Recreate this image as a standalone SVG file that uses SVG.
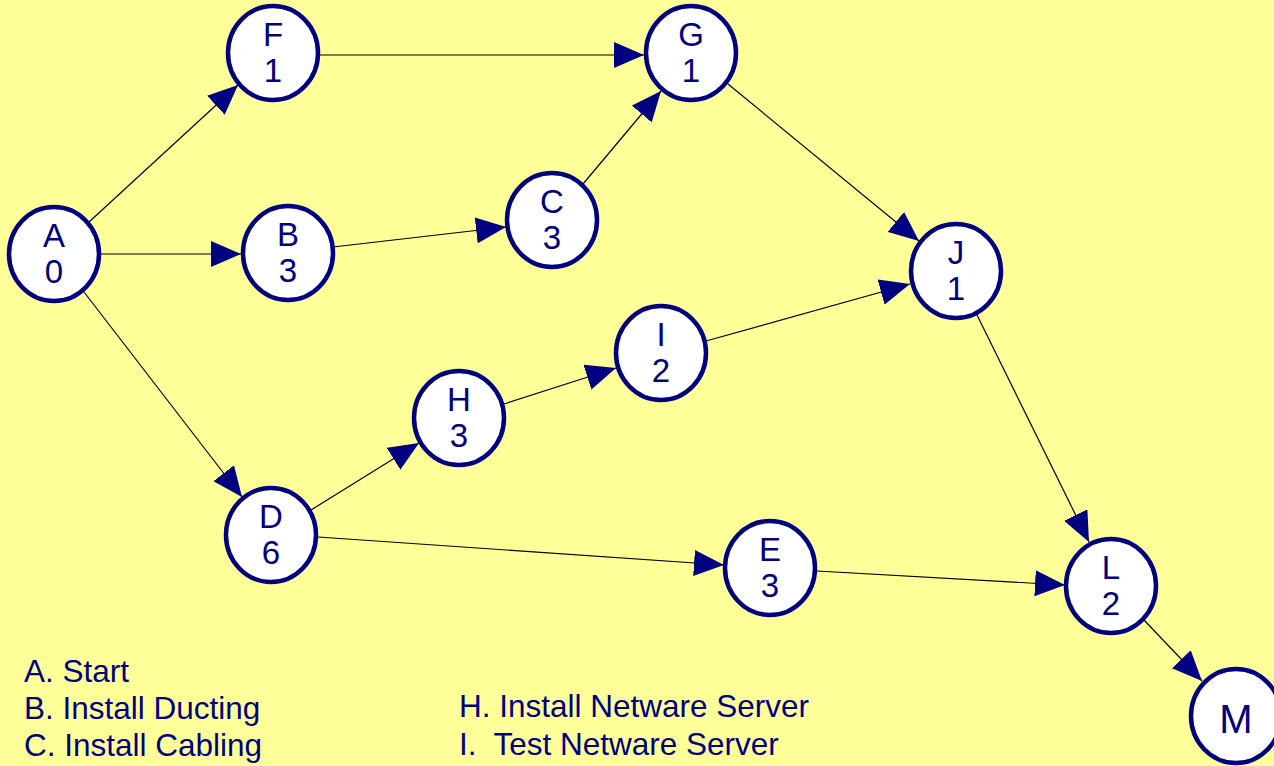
<svg xmlns="http://www.w3.org/2000/svg" width="1274" height="766" viewBox="0 0 1274 766">
  <style>
    .node ellipse { fill: #ffffff; stroke: #000080; stroke-width: 4.5; }
    .node text { font-family: "Liberation Sans", Arial, sans-serif; font-size: 33px; fill: #000080; text-anchor: middle; }
    .edges line { stroke: #000000; stroke-width: 1.2; marker-end: url(#arrow); }
    .legend text { font-family: "Liberation Sans", Arial, sans-serif; font-size: 31.5px; fill: #000080; }
  </style>
  <defs>
    <marker id="arrow" markerUnits="userSpaceOnUse" markerWidth="30" markerHeight="26" refX="30" refY="13" orient="auto">
      <path d="M0,0 L30,13 L0,26 z" fill="#000080"/>
    </marker>
  </defs>

  <rect x="0" y="0" width="1274" height="766" fill="#ffff99"/>

  <!-- connectors -->
  <g id="edges" class="edges">
    <line x1="89" y1="222" x2="238" y2="85"/>
    <line x1="101" y1="254" x2="241" y2="254"/>
    <line x1="84" y1="292" x2="242" y2="497"/>
    <line x1="320" y1="55" x2="644" y2="55"/>
    <line x1="333" y1="247" x2="506" y2="227"/>
    <line x1="583" y1="184" x2="661" y2="91"/>
    <line x1="728" y1="84" x2="919" y2="241"/>
    <line x1="311" y1="510" x2="419" y2="443"/>
    <line x1="318" y1="537" x2="724" y2="565"/>
    <line x1="504" y1="404" x2="616" y2="368"/>
    <line x1="706" y1="341" x2="910" y2="284"/>
    <line x1="977" y1="315" x2="1089" y2="542"/>
    <line x1="817" y1="571" x2="1065" y2="585"/>
    <line x1="1144" y1="620" x2="1202" y2="681"/>
  </g>

  <!-- activity nodes -->
  <g id="node-A" class="node">
    <ellipse cx="54" cy="254" rx="45" ry="47"/>
    <text x="54" y="247">A</text>
    <text x="54" y="283">0</text>
  </g>
  <g id="node-F" class="node">
    <ellipse cx="273" cy="53" rx="45" ry="47"/>
    <text x="273" y="46">F</text>
    <text x="273" y="82">1</text>
  </g>
  <g id="node-G" class="node">
    <ellipse cx="691" cy="53" rx="45" ry="47"/>
    <text x="691" y="46">G</text>
    <text x="691" y="82">1</text>
  </g>
  <g id="node-B" class="node">
    <ellipse cx="288" cy="253" rx="45" ry="47"/>
    <text x="288" y="246">B</text>
    <text x="288" y="282">3</text>
  </g>
  <g id="node-C" class="node">
    <ellipse cx="552" cy="220" rx="45" ry="47"/>
    <text x="552" y="213">C</text>
    <text x="552" y="249">3</text>
  </g>
  <g id="node-J" class="node">
    <ellipse cx="956" cy="271" rx="45" ry="47"/>
    <text x="956" y="264">J</text>
    <text x="956" y="300">1</text>
  </g>
  <g id="node-I" class="node">
    <ellipse cx="661" cy="353" rx="45" ry="47"/>
    <text x="661" y="346">I</text>
    <text x="661" y="382">2</text>
  </g>
  <g id="node-H" class="node">
    <ellipse cx="459" cy="418" rx="45" ry="47"/>
    <text x="459" y="411">H</text>
    <text x="459" y="447">3</text>
  </g>
  <g id="node-D" class="node">
    <ellipse cx="271" cy="535" rx="45" ry="47"/>
    <text x="271" y="528">D</text>
    <text x="271" y="564">6</text>
  </g>
  <g id="node-E" class="node">
    <ellipse cx="770" cy="568" rx="45" ry="47"/>
    <text x="770" y="561">E</text>
    <text x="770" y="597">3</text>
  </g>
  <g id="node-L" class="node">
    <ellipse cx="1111" cy="586" rx="45" ry="47"/>
    <text x="1111" y="579">L</text>
    <text x="1111" y="615">2</text>
  </g>
  <g id="node-M" class="node">
    <ellipse cx="1236" cy="716" rx="45" ry="47"/>
    <text x="1236" y="733" style="font-size:40px">M</text>
  </g>

  <!-- activity key -->
  <g id="legend" class="legend">
    <text x="24" y="682">A. Start</text>
    <text x="24" y="719">B. Install Ducting</text>
    <text x="24" y="756">C. Install Cabling</text>
    <text x="459" y="717">H. Install Netware Server</text>
    <text x="459" y="755">I.&#160; Test Netware Server</text>
  </g>
</svg>
